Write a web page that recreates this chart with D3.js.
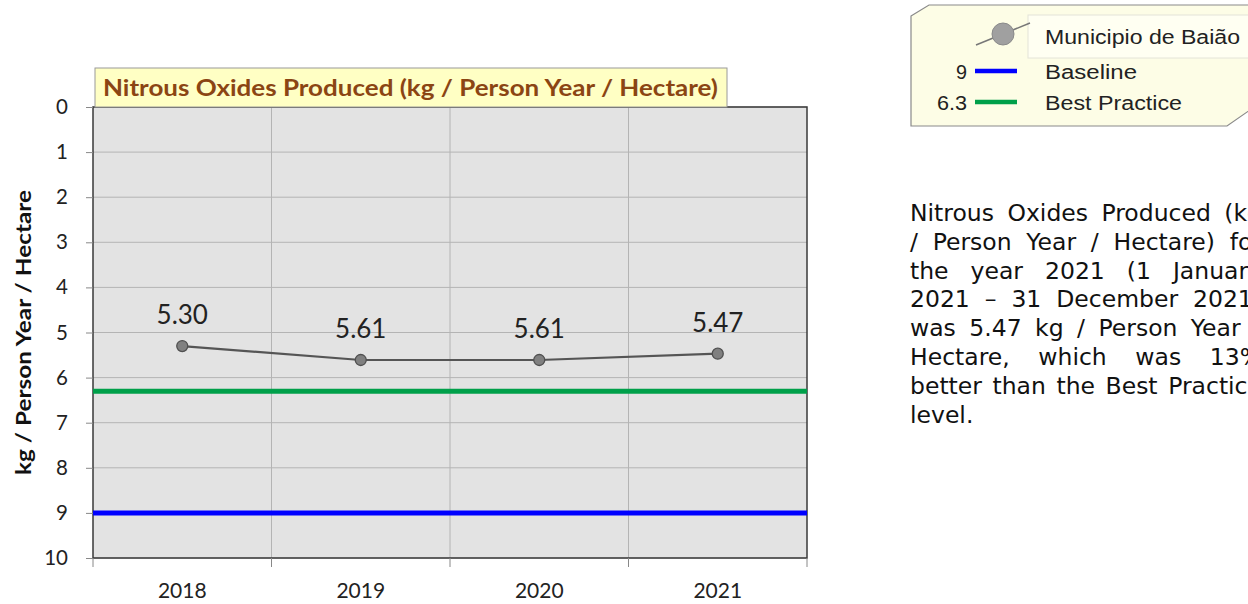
<!DOCTYPE html>
<html>
<head>
<meta charset="utf-8">
<script src="https://cdn.jsdelivr.net/npm/d3@7"></script>
<style>
  body { margin: 0; background: #fff; overflow: hidden; }
  .note { position: absolute; left: 910px; top: 199px; width: 352px;
          font-family: "DejaVu Sans", Verdana, sans-serif; font-size: 23.5px; color: #111; }
  .note div { height: 28.8px; line-height: 28.8px; white-space: nowrap; text-align: justify; text-align-last: justify; }
  .note div.last { text-align-last: left; }
</style>
</head>
<body>
<div class="note" id="note"></div>
<script>
// chart data
var years = ["2018", "2019", "2020", "2021"];
var values = [5.30, 5.61, 5.61, 5.47];
var baseline = 9;
var bestPractice = 6.3;
var yTicks = [0, 1, 2, 3, 4, 5, 6, 7, 8, 9, 10];
var seriesName = "Municipio de Baião";
var chartTitle = "Nitrous Oxides Produced (kg / Person Year / Hectare)";
var yLabel = "kg / Person Year / Hectare";
var noteLines = [
  "Nitrous Oxides Produced (kg",
  "/ Person Year / Hectare) for",
  "the year 2021 (1 January",
  "2021 – 31 December 2021)",
  "was 5.47 kg / Person Year /",
  "Hectare, which was 13%",
  "better than the Best Practice",
  "level."
];

var margin = {top: 107, left: 93},
    width = 714,
    height = 451;

var font = "Lato, 'Open Sans', sans-serif";

var svg = d3.select("body").append("svg")
  .attr("width", 1248)
  .attr("height", 604)
  .style("position", "absolute").style("left", 0).style("top", 0);

var g = svg.append("g")
  .attr("transform", "translate(" + margin.left + "," + margin.top + ")");

var x = d3.scaleBand().domain(years).range([0, width]);
var y = d3.scaleLinear().domain([0, 10]).range([0, height]);

// plot background
g.append("rect")
  .attr("width", width).attr("height", height)
  .attr("fill", "#e3e3e3");

// horizontal grid
g.selectAll(".hgrid").data(yTicks).enter().append("line")
  .attr("x1", 0).attr("x2", width)
  .attr("y1", d => y(d)).attr("y2", d => y(d))
  .attr("stroke", "#b4b4b4").attr("stroke-width", 1);

// vertical grid at category boundaries
g.selectAll(".vgrid").data(years.slice(1)).enter().append("line")
  .attr("x1", d => x(d)).attr("x2", d => x(d))
  .attr("y1", 0).attr("y2", height)
  .attr("stroke", "#b4b4b4").attr("stroke-width", 1);

// border
g.append("rect")
  .attr("width", width).attr("height", height)
  .attr("fill", "none").attr("stroke", "#3a3a3a").attr("stroke-width", 1.5);

// y axis
var yAxis = g.append("g")
  .call(d3.axisLeft(y).tickValues(yTicks).tickSize(7).tickPadding(18));
yAxis.select(".domain").remove();
yAxis.selectAll("line").attr("stroke", "#888");
yAxis.selectAll("text")
  .attr("font-family", font)
  .attr("font-size", 20.5).attr("fill", "#222");

// x axis ticks at boundaries
g.selectAll(".xtick").data(years.concat(["end"])).enter().append("line")
  .attr("x1", (d, i) => i * x.step()).attr("x2", (d, i) => i * x.step())
  .attr("y1", height).attr("y2", height + 9)
  .attr("stroke", "#888");

g.selectAll(".xlab").data(years).enter().append("text")
  .attr("x", d => x(d) + x.bandwidth() / 2)
  .attr("y", height + 40)
  .attr("text-anchor", "middle")
  .attr("font-family", font)
  .attr("font-size", 21).attr("fill", "#222")
  .text(d => d);

// reference lines
g.append("line")
  .attr("x1", 0).attr("x2", width)
  .attr("y1", y(bestPractice)).attr("y2", y(bestPractice))
  .attr("stroke", "#00a04a").attr("stroke-width", 5);
g.append("line")
  .attr("x1", 0).attr("x2", width)
  .attr("y1", y(baseline)).attr("y2", y(baseline))
  .attr("stroke", "#0000ff").attr("stroke-width", 5);

// series line
var line = d3.line()
  .x((d, i) => x(years[i]) + x.bandwidth() / 2)
  .y(d => y(d));

g.append("path")
  .datum(values)
  .attr("d", line)
  .attr("fill", "none")
  .attr("stroke", "#555").attr("stroke-width", 2.2);

g.selectAll(".pt").data(values).enter().append("circle")
  .attr("cx", (d, i) => x(years[i]) + x.bandwidth() / 2)
  .attr("cy", d => y(d))
  .attr("r", 5.5)
  .attr("fill", "#808080").attr("stroke", "#505050").attr("stroke-width", 1.3);

g.selectAll(".vlab").data(values).enter().append("text")
  .attr("x", (d, i) => x(years[i]) + x.bandwidth() / 2)
  .attr("y", d => y(d) - 22)
  .attr("text-anchor", "middle")
  .attr("font-family", font)
  .attr("font-size", 26).attr("fill", "#222")
  .text(d => d.toFixed(2));

// title box
svg.append("rect")
  .attr("x", 95).attr("y", 68).attr("width", 632).attr("height", 39)
  .attr("fill", "#ffffc4").attr("stroke", "#9a9a9a").attr("stroke-width", 1);
svg.append("text")
  .attr("x", 103).attr("y", 96)
  .attr("textLength", 615).attr("lengthAdjust", "spacingAndGlyphs")
  .attr("font-family", font)
  .attr("font-weight", "bold")
  .attr("font-size", 22).attr("fill", "#8b4513")
  .text(chartTitle);

// y axis title
svg.append("text")
  .attr("transform", "translate(31," + (margin.top + height / 2) + ") rotate(-90)")
  .attr("text-anchor", "middle")
  .attr("textLength", 285).attr("lengthAdjust", "spacingAndGlyphs")
  .attr("font-family", font)
  .attr("font-weight", "bold")
  .attr("font-size", 21).attr("fill", "#111")
  .text(yLabel);

// legend
var lg = svg.append("g");
lg.append("path")
  .attr("d", "M911,16 L929,5 L1250,5 L1250,110 L1227,126 L911,126 Z")
  .attr("fill", "#fdfde6").attr("stroke", "#8a8a8a").attr("stroke-width", 1.2);
lg.append("rect")
  .attr("x", 1028).attr("y", 15).attr("width", 230).attr("height", 43)
  .attr("fill", "#fffff2").attr("stroke", "#e4e4d8");
lg.append("line")
  .attr("x1", 976).attr("y1", 45).attr("x2", 1030).attr("y2", 23)
  .attr("stroke", "#777").attr("stroke-width", 1.5);
lg.append("circle")
  .attr("cx", 1003).attr("cy", 34).attr("r", 11)
  .attr("fill", "#a0a0a0").attr("stroke", "#8a8a8a");

var legendItems = [
  {label: seriesName, value: null, color: null, y: 36, w: 195},
  {label: "Baseline", value: baseline, color: "#0000ff", y: 71, w: 92, vw: 11},
  {label: "Best Practice", value: bestPractice, color: "#00a04a", y: 102, w: 137, vw: 30}
];
legendItems.forEach(function(d) {
  lg.append("text")
    .attr("x", 1045).attr("y", d.y + 8)
    .attr("textLength", d.w).attr("lengthAdjust", "spacingAndGlyphs")
    .attr("font-family", "'Liberation Sans', Arial, sans-serif")
    .attr("font-size", 20).attr("fill", "#222")
    .text(d.label);
  if (d.value !== null) {
    lg.append("line")
      .attr("x1", 975).attr("x2", 1017)
      .attr("y1", d.y).attr("y2", d.y)
      .attr("stroke", d.color).attr("stroke-width", 4.5);
    lg.append("text")
      .attr("x", 967 - d.vw).attr("y", d.y + 8)
      .attr("textLength", d.vw).attr("lengthAdjust", "spacingAndGlyphs")
      .attr("font-family", "'Liberation Sans', Arial, sans-serif")
      .attr("font-size", 20).attr("fill", "#222")
      .text(d.value);
  }
});

// note text
d3.select("#note").selectAll("div").data(noteLines).enter().append("div")
  .attr("class", (d, i) => i === noteLines.length - 1 ? "last" : null)
  .text(d => d);
</script>
</body>
</html>
